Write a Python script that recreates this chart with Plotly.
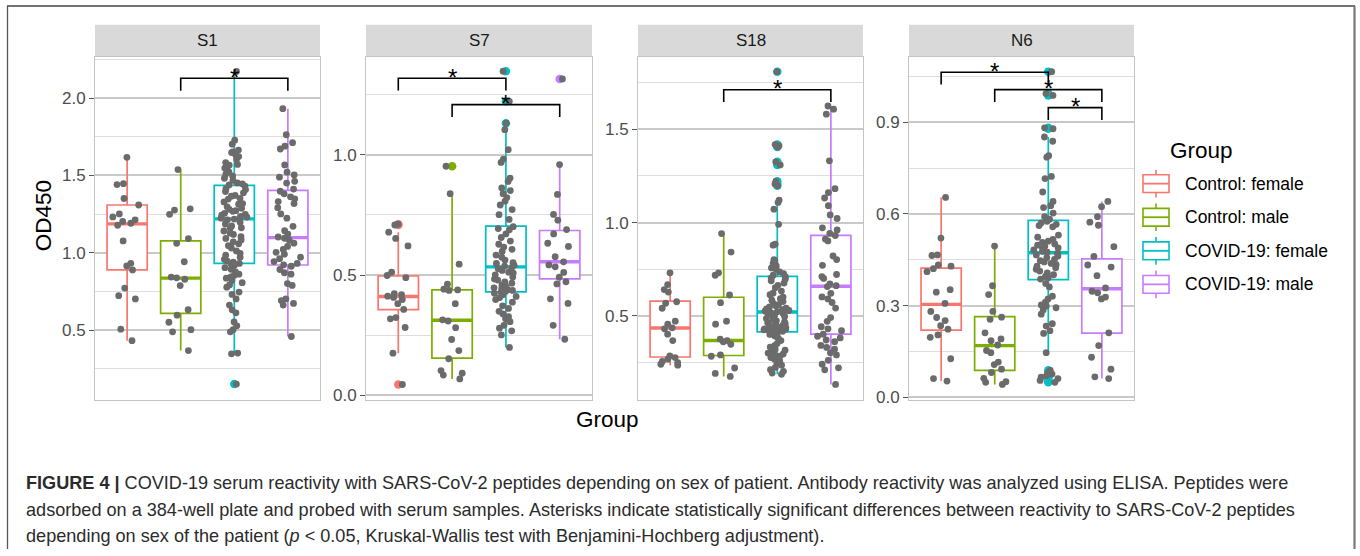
import plotly.graph_objects as go

W, H = 1360, 556

peptides = ["S1", "S7", "S18", "N6"]
groups = ["Control: female", "Control: male", "COVID-19: female", "COVID-19: male"]
group_colors = ["#F8766D", "#7CAE00", "#00BFC4", "#C77CFF"]
point_color = "#6b6b6b"

# ---------------- S1 ----------------
s1_ctrl_f = [1.617, 1.447, 1.441, 1.351, 1.309, 1.251, 1.232, 1.213, 1.203, 1.191, 1.178,
             1.077, 0.932, 0.915, 0.889, 0.772, 0.723, 0.702, 0.506, 0.432]
s1_ctrl_m = [1.538, 1.284, 1.276, 1.249, 1.092, 1.061, 0.942, 0.843, 0.838, 0.829, 0.788,
             0.632, 0.597, 0.551, 0.503, 0.489, 0.368]
s1_cov_f = [2.172, 1.728, 1.702, 1.664, 1.652, 1.648, 1.637, 1.622, 1.606, 1.583, 1.571,
            1.566, 1.548, 1.541, 1.523, 1.509, 1.497, 1.482, 1.468, 1.452, 1.446, 1.439,
            1.431, 1.414, 1.409, 1.396, 1.388, 1.371, 1.366, 1.352, 1.347, 1.329, 1.318,
            1.314, 1.297, 1.288, 1.281, 1.272, 1.268, 1.255, 1.249, 1.243, 1.236, 1.231,
            1.224, 1.221, 1.218, 1.213, 1.197, 1.186, 1.174, 1.162, 1.158, 1.141, 1.127,
            1.119, 1.104, 1.093, 1.082, 1.071, 1.058, 1.046, 1.031, 1.012, 0.996, 0.984,
            0.972, 0.958, 0.946, 0.939, 0.931, 0.927, 0.918, 0.904, 0.893, 0.876, 0.862,
            0.853, 0.844, 0.836, 0.821, 0.807, 0.792, 0.778, 0.746, 0.731, 0.702, 0.662,
            0.631, 0.612, 0.553, 0.528, 0.503, 0.489, 0.352, 0.347, 0.151]
s1_cov_m = [1.932, 1.763, 1.712, 1.689, 1.671, 1.568, 1.521, 1.503, 1.489, 1.462, 1.451,
            1.412, 1.398, 1.381, 1.362, 1.349, 1.331, 1.318, 1.292, 1.251, 1.224, 1.171,
            1.143, 1.121, 1.102, 1.094, 1.081, 1.062, 1.041, 1.022, 1.003, 0.991, 0.972,
            0.962, 0.943, 0.931, 0.922, 0.913, 0.892, 0.871, 0.862, 0.801, 0.789, 0.702,
            0.691, 0.673, 0.662, 0.459]
# lower whisker, Q1, median, Q3, upper whisker
s1_box = [[0.432, 0.889, 1.187, 1.309, 1.617],
          [0.368, 0.609, 0.836, 1.077, 1.538],
          [0.347, 0.932, 1.219, 1.436, 2.172],
          [0.459, 0.921, 1.098, 1.404, 1.932]]
s1_outliers = [[], [], [0.151], []]
s1_pairs = [(2, 4, 2.128)]
s1_range = [0.049, 2.264]
s1_dtick = 0.5

# ---------------- S7 ----------------
s7_ctrl_f = [0.711, 0.708, 0.678, 0.652, 0.621, 0.512, 0.498, 0.489, 0.423, 0.418, 0.412,
             0.407, 0.398, 0.381, 0.357, 0.323, 0.318, 0.282, 0.175, 0.045]
s7_ctrl_m = [0.952, 0.838, 0.545, 0.462, 0.441, 0.438, 0.436, 0.381, 0.314, 0.309, 0.281,
             0.232, 0.186, 0.152, 0.103, 0.092, 0.084, 0.068]
s7_cov_f = [1.347, 1.222, 1.131, 1.104, 1.021, 0.982, 0.968, 0.903, 0.889, 0.862, 0.851,
            0.838, 0.822, 0.807, 0.791, 0.772, 0.751, 0.731, 0.701, 0.693, 0.688, 0.671,
            0.656, 0.641, 0.628, 0.616, 0.607, 0.598, 0.583, 0.574, 0.562, 0.551, 0.548,
            0.541, 0.537, 0.531, 0.526, 0.519, 0.512, 0.508, 0.501, 0.492, 0.483, 0.479,
            0.471, 0.466, 0.458, 0.452, 0.447, 0.443, 0.439, 0.436, 0.432, 0.429, 0.424,
            0.418, 0.411, 0.406, 0.398, 0.387, 0.372, 0.361, 0.349, 0.338, 0.327, 0.318,
            0.306, 0.291, 0.279, 0.268, 0.251, 0.199]
s7_cov_m = [1.315, 0.959, 0.835, 0.752, 0.728, 0.689, 0.671, 0.632, 0.619, 0.576, 0.555,
            0.542, 0.534, 0.511, 0.491, 0.472, 0.463, 0.401, 0.382, 0.291, 0.233]
s7_box = [[0.175, 0.356, 0.411, 0.496, 0.678],
          [0.068, 0.155, 0.312, 0.438, 0.838],
          [0.199, 0.430, 0.534, 0.703, 1.104],
          [0.233, 0.484, 0.555, 0.685, 0.959]]
s7_outliers = [[0.711, 0.708, 0.045], [0.952], [1.347, 1.222, 1.131], [1.315]]
s7_pairs = [(1, 3, 1.318), (2, 4, 1.208)]
s7_range = [-0.019, 1.405]
s7_dtick = 0.5

# ---------------- S18 ----------------
s18_ctrl_f = [0.731, 0.668, 0.641, 0.628, 0.576, 0.568, 0.541, 0.472, 0.456, 0.436, 0.431,
              0.402, 0.368, 0.286, 0.277, 0.268, 0.256, 0.249, 0.241, 0.236]
s18_ctrl_m = [0.941, 0.842, 0.731, 0.718, 0.612, 0.571, 0.472, 0.456, 0.376, 0.368, 0.361,
              0.348, 0.291, 0.284, 0.221, 0.192, 0.176]
s18_cov_f = [1.809, 1.418, 1.412, 1.405, 1.326, 1.309, 1.221, 1.207, 1.198, 1.121, 1.108,
             1.072, 0.991, 0.884, 0.879, 0.802, 0.794, 0.781, 0.768, 0.757, 0.749, 0.736,
             0.727, 0.718, 0.709, 0.702, 0.696, 0.688, 0.676, 0.664, 0.651, 0.633, 0.622,
             0.614, 0.601, 0.592, 0.584, 0.577, 0.566, 0.561, 0.553, 0.548, 0.542, 0.537,
             0.533, 0.529, 0.526, 0.524, 0.522, 0.518, 0.511, 0.507, 0.502, 0.497, 0.491,
             0.486, 0.479, 0.474, 0.468, 0.463, 0.458, 0.452, 0.449, 0.446, 0.441, 0.438,
             0.436, 0.431, 0.428, 0.426, 0.423, 0.421, 0.418, 0.416, 0.409, 0.401, 0.392,
             0.381, 0.368, 0.352, 0.341, 0.333, 0.322, 0.316, 0.309, 0.301, 0.296, 0.291,
             0.284, 0.277, 0.268, 0.259, 0.248, 0.236, 0.224, 0.212, 0.203, 0.194, 0.187]
s18_cov_m = [1.625, 1.608, 1.581, 1.331, 1.182, 1.161, 1.132, 1.091, 1.041, 1.022, 0.972,
             0.961, 0.942, 0.931, 0.912, 0.902, 0.821, 0.802, 0.771, 0.722, 0.711, 0.701,
             0.672, 0.662, 0.657, 0.621, 0.602, 0.591, 0.572, 0.542, 0.491, 0.471, 0.442,
             0.431, 0.421, 0.402, 0.391, 0.382, 0.371, 0.362, 0.342, 0.331, 0.322, 0.302,
             0.291, 0.262, 0.241, 0.222, 0.211, 0.133]
s18_box = [[0.236, 0.280, 0.435, 0.579, 0.731],
           [0.176, 0.288, 0.368, 0.600, 0.941],
           [0.187, 0.415, 0.521, 0.712, 1.121],
           [0.133, 0.403, 0.659, 0.932, 1.625]]
s18_outliers = [[], [], [1.809, 1.418, 1.412, 1.405, 1.326, 1.309, 1.221, 1.207, 1.198], []]
s18_pairs = [(2, 4, 1.712)]
s18_range = [0.05, 1.886]
s18_dtick = 0.5

# ---------------- N6 ----------------
n6_ctrl_f = [0.654, 0.521, 0.466, 0.464, 0.433, 0.429, 0.421, 0.411, 0.352, 0.344, 0.307,
             0.281, 0.261, 0.251, 0.234, 0.223, 0.204, 0.196, 0.126, 0.061, 0.053]
n6_ctrl_m = [0.495, 0.365, 0.336, 0.281, 0.262, 0.255, 0.211, 0.191, 0.185, 0.171, 0.153,
             0.146, 0.115, 0.107, 0.092, 0.081, 0.062, 0.051, 0.049, 0.042]
n6_cov_f = [1.066, 0.994, 0.988, 0.882, 0.879, 0.852, 0.838, 0.791, 0.786, 0.723, 0.716,
            0.672, 0.641, 0.627, 0.621, 0.603, 0.591, 0.583, 0.576, 0.571, 0.566, 0.562,
            0.558, 0.531, 0.524, 0.517, 0.511, 0.507, 0.502, 0.498, 0.494, 0.489, 0.486,
            0.482, 0.478, 0.475, 0.471, 0.466, 0.462, 0.457, 0.451, 0.447, 0.443, 0.438,
            0.434, 0.429, 0.424, 0.419, 0.413, 0.407, 0.401, 0.396, 0.391, 0.387, 0.372,
            0.361, 0.331, 0.322, 0.311, 0.302, 0.298, 0.293, 0.286, 0.272, 0.241, 0.233,
            0.218, 0.209, 0.146, 0.088, 0.081, 0.076, 0.071, 0.066, 0.061, 0.055, 0.049]
n6_cov_m = [0.641, 0.624, 0.591, 0.573, 0.563, 0.493, 0.461, 0.433, 0.426, 0.398, 0.358,
            0.347, 0.342, 0.328, 0.322, 0.211, 0.169, 0.131, 0.092, 0.067, 0.061]
n6_box = [[0.053, 0.220, 0.304, 0.423, 0.654],
          [0.042, 0.088, 0.169, 0.264, 0.495],
          [0.146, 0.385, 0.473, 0.579, 0.852],
          [0.061, 0.210, 0.355, 0.453, 0.641]]
n6_outliers = [[], [], [1.066, 0.994, 0.988, 0.882, 0.879, 0.088, 0.081, 0.076, 0.071,
                        0.066, 0.061, 0.055, 0.049], []]
n6_pairs = [(1, 3, 1.064), (2, 4, 1.007), (3, 4, 0.948)]
n6_range = [-0.0087, 1.113]
n6_dtick = 0.3

panels = [
    dict(points=[s1_ctrl_f, s1_ctrl_m, s1_cov_f, s1_cov_m], box=s1_box,
         outliers=s1_outliers, pairs=s1_pairs, yrange=s1_range, dtick=s1_dtick),
    dict(points=[s7_ctrl_f, s7_ctrl_m, s7_cov_f, s7_cov_m], box=s7_box,
         outliers=s7_outliers, pairs=s7_pairs, yrange=s7_range, dtick=s7_dtick),
    dict(points=[s18_ctrl_f, s18_ctrl_m, s18_cov_f, s18_cov_m], box=s18_box,
         outliers=s18_outliers, pairs=s18_pairs, yrange=s18_range, dtick=s18_dtick),
    dict(points=[n6_ctrl_f, n6_ctrl_m, n6_cov_f, n6_cov_m], box=n6_box,
         outliers=n6_outliers, pairs=n6_pairs, yrange=n6_range, dtick=n6_dtick),
]

# ---------------- layout geometry (pixels) ----------------
FONT = "Liberation Sans, Arial, sans-serif"
panel_px = [(95, 320), (366, 592), (638, 863), (909, 1134)]
PANEL_TOP, PANEL_BOTTOM, STRIP_TOP = 58, 405, 25
BOX_W = 0.75
XRANGE = [0.4, 4.6]


def px(x):
    return x / W


def py(y):
    return 1 - y / H


fig = go.Figure()
layout = dict(
    width=W, height=H, margin=dict(l=0, r=0, t=0, b=0),
    paper_bgcolor="white", plot_bgcolor="white",
    showlegend=False, hovermode=False,
    font=dict(family=FONT, color="#1a1a1a"),
)
shapes = []
annotations = []

for i, p in enumerate(panels):
    n = i + 1
    ov = i + 5
    xa, ya = ("x" if n == 1 else f"x{n}"), ("y" if n == 1 else f"y{n}")
    xo, yo = f"x{ov}", f"y{ov}"
    x0, x1 = panel_px[i]
    dom_x = [px(x0), px(x1)]
    dom_y = [py(PANEL_BOTTOM), py(PANEL_TOP)]
    layout[f"xaxis{'' if n == 1 else n}"] = dict(
        domain=dom_x, range=XRANGE, anchor=ya, showticklabels=False, ticks="",
        showgrid=False, zeroline=False, showline=True, mirror=True,
        linecolor="#c4c4c4", linewidth=1, fixedrange=True)
    layout[f"yaxis{'' if n == 1 else n}"] = dict(
        domain=dom_y, range=p["yrange"], anchor=xa, tick0=0, dtick=p["dtick"],
        tickformat=".1f", ticks="outside", ticklen=5, tickwidth=1.3, tickcolor="#555555",
        tickfont=dict(size=17, color="#4d4d4d", family=FONT),
        showgrid=True, gridcolor="#c9c9c9", gridwidth=1.6,
        minor=dict(tick0=0, dtick=p["dtick"] / 2, showgrid=True,
                   gridcolor="#dedede", gridwidth=1),
        zeroline=False, showline=True, mirror=True, linecolor="#c4c4c4",
        linewidth=1, fixedrange=True)
    # overlay axes so the jittered samples and brackets sit on top of the boxes
    layout[f"xaxis{ov}"] = dict(domain=dom_x, range=XRANGE, overlaying=xa, anchor=yo,
                               visible=False, fixedrange=True)
    layout[f"yaxis{ov}"] = dict(domain=dom_y, range=p["yrange"], overlaying=ya, anchor=xo,
                               visible=False, fixedrange=True)

    for g in range(4):
        pos = g + 1
        col = group_colors[g]
        lo, q1, med, q3, hi = p["box"][g]
        fig.add_trace(go.Box(
            x=[pos], q1=[q1], median=[med], q3=[q3], lowerfence=[lo], upperfence=[hi],
            width=BOX_W, whiskerwidth=0, boxpoints=False, fillcolor="white",
            line=dict(color=col, width=1.7), xaxis=xa, yaxis=ya, name=groups[g]))
        # thicker median bar
        fig.add_trace(go.Scatter(
            x=[pos - BOX_W / 2, pos + BOX_W / 2], y=[med, med], mode="lines",
            line=dict(color=col, width=3.4), xaxis=xa, yaxis=ya))
        out = p["outliers"][g]
        if out:
            fig.add_trace(go.Scatter(
                x=[pos] * len(out), y=out, mode="markers",
                marker=dict(color=col, size=8.5, line=dict(width=0)),
                xaxis=xa, yaxis=ya))
        vals = p["points"][g]
        fig.add_trace(go.Box(
            x=[pos] * len(vals), y=vals, boxpoints="all", jitter=1, pointpos=0,
            width=0.55, whiskerwidth=0, fillcolor="rgba(0,0,0,0)",
            line=dict(width=0, color="rgba(0,0,0,0)"),
            marker=dict(color=point_color, size=6.8, line=dict(width=0)),
            xaxis=xo, yaxis=yo, name=groups[g]))

    # significance brackets
    span = p["yrange"][1] - p["yrange"][0]
    drop = 12.5 * span / (PANEL_BOTTOM - PANEL_TOP)
    for a, b, h in p["pairs"]:
        fig.add_trace(go.Scatter(
            x=[a, a, b, b], y=[h - drop, h, h, h - drop], mode="lines",
            line=dict(color="black", width=1.6), xaxis=xo, yaxis=yo))
        annotations.append(dict(
            x=(a + b) / 2, y=h, xref=xo, yref=yo, text="*", showarrow=False,
            font=dict(size=24, color="black", family=FONT),
            xanchor="center", yanchor="middle", yshift=1))

    # facet strip
    shapes.append(dict(type="rect", xref="paper", yref="paper", x0=px(x0), x1=px(x1),
                       y0=py(PANEL_TOP - 1), y1=py(STRIP_TOP),
                       fillcolor="#d9d9d9", line=dict(width=0), layer="below"))
    annotations.append(dict(
        x=px((x0 + x1) / 2), y=py((STRIP_TOP + PANEL_TOP - 1) / 2), xref="paper",
        yref="paper", text=peptides[i], showarrow=False,
        font=dict(size=17, color="#1a1a1a", family=FONT),
        xanchor="center", yanchor="middle"))

# axis titles
annotations.append(dict(x=px(607), y=py(425), xref="paper", yref="paper", text="Group",
                        showarrow=False, font=dict(size=22.5, color="black", family=FONT),
                        xanchor="center", yanchor="middle"))
annotations.append(dict(x=px(43), y=py(219), xref="paper", yref="paper", text="OD450",
                        showarrow=False, textangle=-90,
                        font=dict(size=22.5, color="black", family=FONT),
                        xanchor="center", yanchor="middle"))

# legend
annotations.append(dict(x=px(1168), y=py(152), xref="paper", yref="paper", text="Group",
                        showarrow=False, font=dict(size=22.5, color="black", family=FONT),
                        xanchor="left", yanchor="middle"))
for g in range(4):
    cy = 186 + 34 * g
    col = group_colors[g]
    kx0, kx1 = 1143, 1169
    kxm = (kx0 + kx1) / 2
    shapes.append(dict(type="rect", xref="paper", yref="paper", x0=px(kx0), x1=px(kx1),
                       y0=py(cy + 9), y1=py(cy - 9), fillcolor="white",
                       line=dict(color=col, width=1.6)))
    shapes.append(dict(type="line", xref="paper", yref="paper", x0=px(kx0), x1=px(kx1),
                       y0=py(cy), y1=py(cy), line=dict(color=col, width=1.8)))
    shapes.append(dict(type="line", xref="paper", yref="paper", x0=px(kxm), x1=px(kxm),
                       y0=py(cy - 14), y1=py(cy - 9), line=dict(color=col, width=1.6)))
    shapes.append(dict(type="line", xref="paper", yref="paper", x0=px(kxm), x1=px(kxm),
                       y0=py(cy + 9), y1=py(cy + 14), line=dict(color=col, width=1.6)))
    annotations.append(dict(x=px(1183), y=py(cy), xref="paper", yref="paper",
                            text=groups[g], showarrow=False,
                            font=dict(size=17.5, color="black", family=FONT),
                            xanchor="left", yanchor="middle"))

# caption
caption = [
    "<b>FIGURE 4 |</b> COVID-19 serum reactivity with SARS-CoV-2 peptides depending on sex of "
    "patient. Antibody reactivity was analyzed using ELISA. Peptides were",
    "adsorbed on a 384-well plate and probed with serum samples. Asterisks indicate "
    "statistically significant differences between reactivity to SARS-CoV-2 peptides",
    "depending on sex of the patient (<i>p</i> &lt; 0.05, Kruskal-Wallis test with "
    "Benjamini-Hochberg adjustment).",
]
for k, line in enumerate(caption):
    annotations.append(dict(x=px(24), y=py(489 + 27 * k), xref="paper", yref="paper",
                            text=line, showarrow=False,
                            font=dict(size=18.1, color="#2b2b2b", family=FONT),
                            xanchor="left", yanchor="middle"))

# figure frame
shapes.append(dict(type="line", xref="paper", yref="paper", x0=px(7), x1=px(1355),
                   y0=py(6), y1=py(6), line=dict(color="#444444", width=1.5)))
shapes.append(dict(type="line", xref="paper", yref="paper", x0=px(7.5), x1=px(7.5),
                   y0=py(6), y1=0, line=dict(color="#555555", width=1.3)))
shapes.append(dict(type="line", xref="paper", yref="paper", x0=px(1354.5), x1=px(1354.5),
                   y0=py(6), y1=0, line=dict(color="#7a7a7a", width=2.2)))

layout["shapes"] = shapes
layout["annotations"] = annotations
fig.update_layout(**layout)
fig.write_html("out.html")
